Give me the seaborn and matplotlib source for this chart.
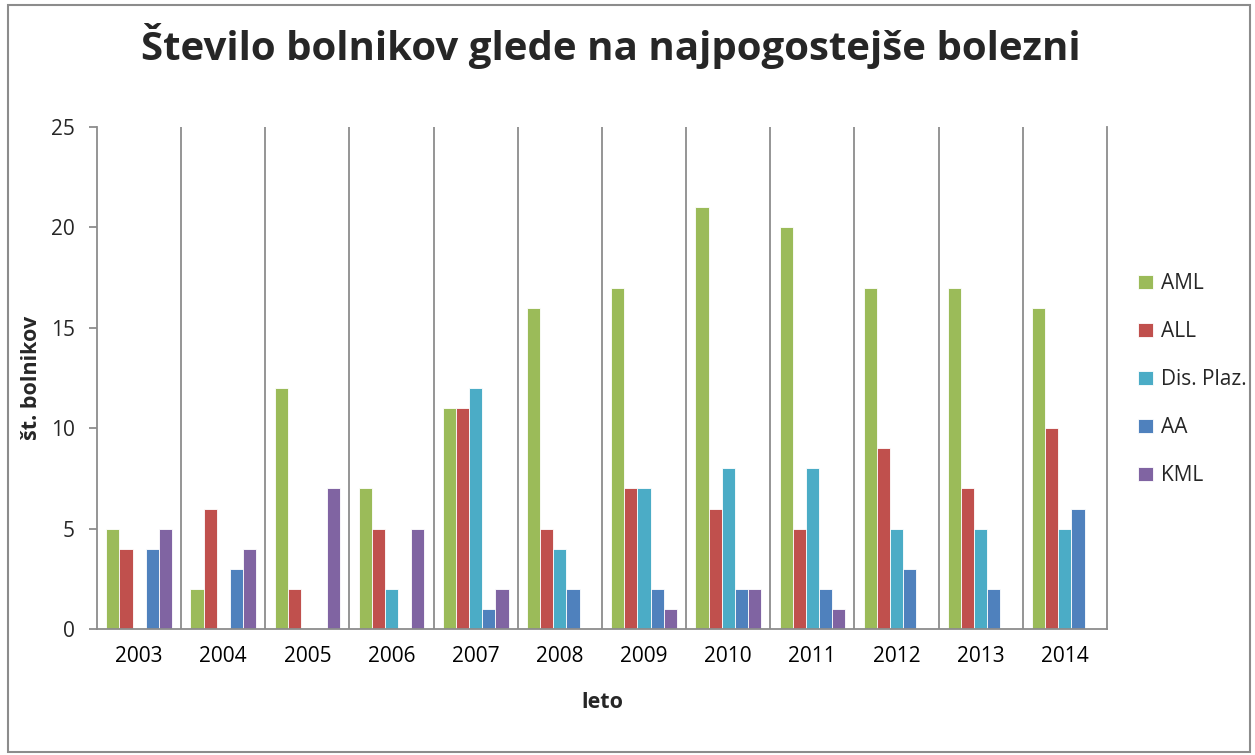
import seaborn as sns
import matplotlib.pyplot as plt
import pandas as pd, numpy as np
from matplotlib.patches import Rectangle

## ____data
years = ["2003", "2004", "2005", "2006", "2007", "2008", "2009", "2010", "2011", "2012", "2013", "2014"]
aml = [5, 2, 12, 7, 11, 16, 17, 21, 20, 17, 17, 16]
all_ = [4, 6, 2, 5, 11, 5, 7, 6, 5, 9, 7, 10]
dis_plaz = [0, 0, 0, 2, 12, 4, 7, 8, 8, 5, 5, 5]
aa = [4, 3, 0, 0, 1, 2, 2, 2, 2, 3, 2, 6]
kml = [5, 4, 7, 5, 2, 0, 1, 2, 1, 0, 0, 0]
diseases = ["AML", "ALL", "Dis. Plaz.", "AA", "KML"]
colors = ["#9BBB59", "#C0504D", "#4BACC6", "#4F81BD", "#8064A2"]

df = pd.DataFrame({"leto": years, "AML": aml, "ALL": all_, "Dis. Plaz.": dis_plaz,
                   "AA": aa, "KML": kml})
df = df.melt(id_vars="leto", var_name="bolezen", value_name="n")

## ____style
sns.set_theme(style="white")
plt.rcParams["font.family"] = ["Open Sans", "DejaVu Sans"]

fig = plt.figure(figsize=(12.55, 7.55), dpi=100)
ax = fig.add_axes([0.0773, 0.1669, 0.8047, 0.6649])

sns.barplot(data=df, x="leto", y="n", hue="bolezen", hue_order=diseases,
            palette=colors, width=0.78, saturation=1, ax=ax,
            edgecolor="white", linewidth=0.6)

ax.set_ylim(0, 25)
ax.set_yticks(range(0, 26, 5))
ax.set_xlim(-0.5, len(years) - 0.5)

# navpicne crte med leti
for b in np.arange(0.5, len(years) - 0.5, 1):
    ax.axvline(b, color="#8c8c8c", lw=1.3, zorder=0)
ax.set_xticks(np.arange(-0.5, len(years), 1), minor=True)

ax.spines["top"].set_visible(False)
for s in ["left", "bottom", "right"]:
    ax.spines[s].set_color("#8c8c8c")
    ax.spines[s].set_linewidth(1.3)

ax.tick_params(axis="x", which="major", length=0, labelsize=15, pad=12, colors="black")
ax.tick_params(axis="x", which="minor", length=6, width=1.3, color="#8c8c8c", direction="out")
ax.tick_params(axis="y", length=6, width=1.3, color="#8c8c8c", labelsize=15, pad=10, left=True)

ax.set_xlabel("leto", fontsize=15.5, fontweight="bold", labelpad=18)
ax.set_ylabel("št. bolnikov", fontsize=15.5, fontweight="bold", labelpad=6)

ax.legend(loc="center left", bbox_to_anchor=(0.892, 0.497), bbox_transform=fig.transFigure,
          frameon=False, fontsize=15, labelspacing=1.3, handlelength=0.7,
          handleheight=0.7, handletextpad=0.4, title=None)

fig.suptitle("Število bolnikov glede na najpogostejše bolezni", fontsize=29,
             fontweight="bold", x=0.487, y=0.97)

fig.patches.append(Rectangle((0.006, 0.004), 0.99, 0.989, transform=fig.transFigure,
                             fill=False, edgecolor="#8c8c8c", lw=1.5))

plt.savefig("out.png")
